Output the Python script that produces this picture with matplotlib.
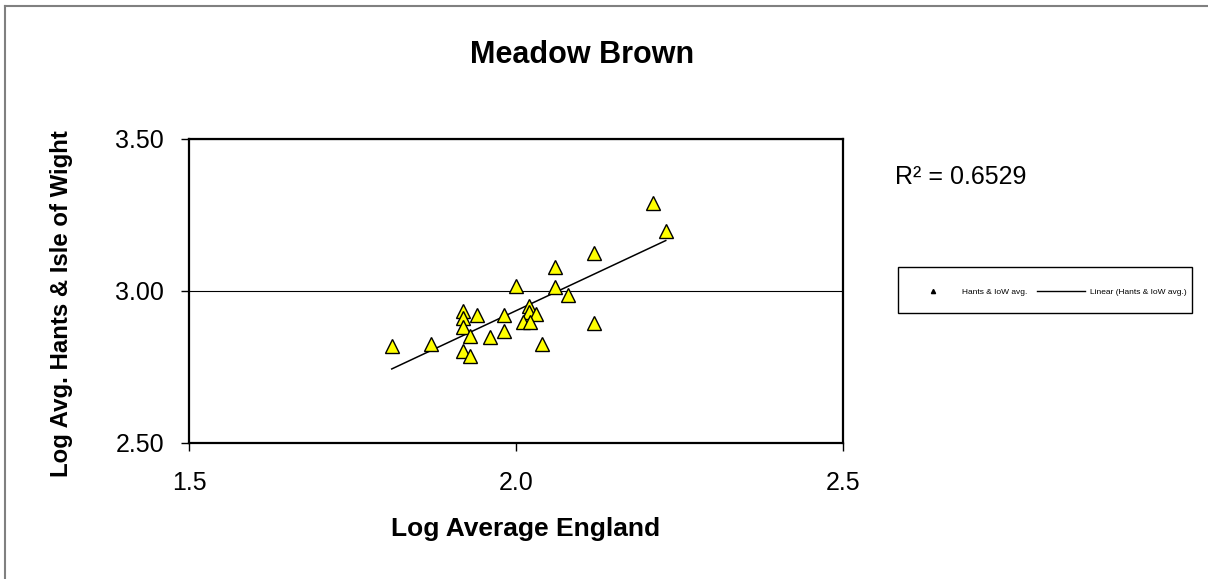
import matplotlib
matplotlib.use('Agg')
import matplotlib.pyplot as plt
from matplotlib.lines import Line2D
from matplotlib.patches import Rectangle
import numpy as np

plt.rcParams['font.family'] = ['Liberation Sans', 'DejaVu Sans']

# Log average England (x) vs log avg. Hants & IoW (y)
log_england = [2.210, 2.229, 2.120, 2.060, 2.000, 2.060, 2.080, 2.020, 2.020,
               2.031, 2.010, 2.021, 1.981, 1.940, 1.919, 1.919, 1.919, 1.930,
               1.960, 1.981, 2.120, 2.039, 1.810, 1.870, 1.919, 1.930]
log_hants = [3.289, 3.198, 3.124, 3.080, 3.017, 3.014, 2.987, 2.951, 2.932,
             2.924, 2.899, 2.899, 2.921, 2.921, 2.934, 2.910, 2.883, 2.852,
             2.850, 2.869, 2.896, 2.826, 2.820, 2.826, 2.804, 2.786]

x_ticks = [1.5, 2.0, 2.5]
y_ticks = [2.50, 3.00, 3.50]
r2_text = 'R² = 0.6529'

W, H = 1208, 579
fig = plt.figure(figsize=(W / 100, H / 100), dpi=100)
ax = fig.add_axes([189 / W, 1 - 443 / H, 654 / W, 304 / H])

x = np.array(log_england)
y = np.array(log_hants)

# linear trend line over the data range
slope, intercept = np.polyfit(x, y, 1)
xs = np.array([x.min(), x.max()])
ax.plot(xs, slope * xs + intercept, color='black', lw=1.1, zorder=2)

ax.plot(x, y, linestyle='none', marker='^', markersize=10,
        markerfacecolor='#ffff00', markeredgecolor='black',
        markeredgewidth=1, zorder=3)

ax.set_xlim(1.5, 2.5)
ax.set_ylim(2.5, 3.5)
ax.set_xticks(x_ticks)
ax.set_xticklabels(['%.1f' % v for v in x_ticks])
ax.set_yticks(y_ticks)
ax.set_yticklabels(['%.2f' % v for v in y_ticks])
ax.tick_params(direction='out', length=6, width=1, labelsize=18)
ax.tick_params(axis='x', pad=14)
ax.tick_params(axis='y', pad=12)
ax.grid(axis='y', color='black', lw=0.8)
for sp in ax.spines.values():
    sp.set_linewidth(1.6)

ax.set_xlabel('Log Average England', fontsize=19, fontweight='bold', labelpad=16)
ax.xaxis.set_label_coords(0.514, -0.245)
ax.set_ylabel('Log Avg. Hants & Isle of Wight', fontsize=17.3, fontweight='bold')
ax.yaxis.set_label_coords(-0.177, 0.46)
fig.text(582 / W, 1 - 55 / H, 'Meadow Brown', fontsize=22, fontweight='bold',
         ha='center', va='center')
fig.text(895 / W, 1 - 177 / H, r2_text, fontsize=18, ha='left', va='center')

# legend box
fig.patches.append(Rectangle((898 / W, 1 - 313 / H), 294 / W, 46 / H,
                             transform=fig.transFigure, fill=False,
                             edgecolor='black', lw=1))
handles = [Line2D([], [], marker='^', color='black', linestyle='none', markersize=3),
           Line2D([], [], color='black', lw=1)]
fig.legend(handles, ['Hants & IoW avg.', 'Linear (Hants & IoW avg.)'],
           loc='center left', bbox_to_anchor=(909 / W, 1 - 292 / H), ncol=2,
           frameon=False, fontsize=6, handlelength=5.8, handletextpad=0.6,
           columnspacing=1.1, borderpad=0, borderaxespad=0)

# outer chart border (left and top visible)
fig.lines.append(Line2D([5 / W, 5 / W], [0, 1 - 6 / H], transform=fig.transFigure,
                        color='#808080', lw=1.5))
fig.lines.append(Line2D([5 / W, 1], [1 - 6 / H, 1 - 6 / H], transform=fig.transFigure,
                        color='#808080', lw=1.5))

fig.savefig('out.png', dpi=100)
